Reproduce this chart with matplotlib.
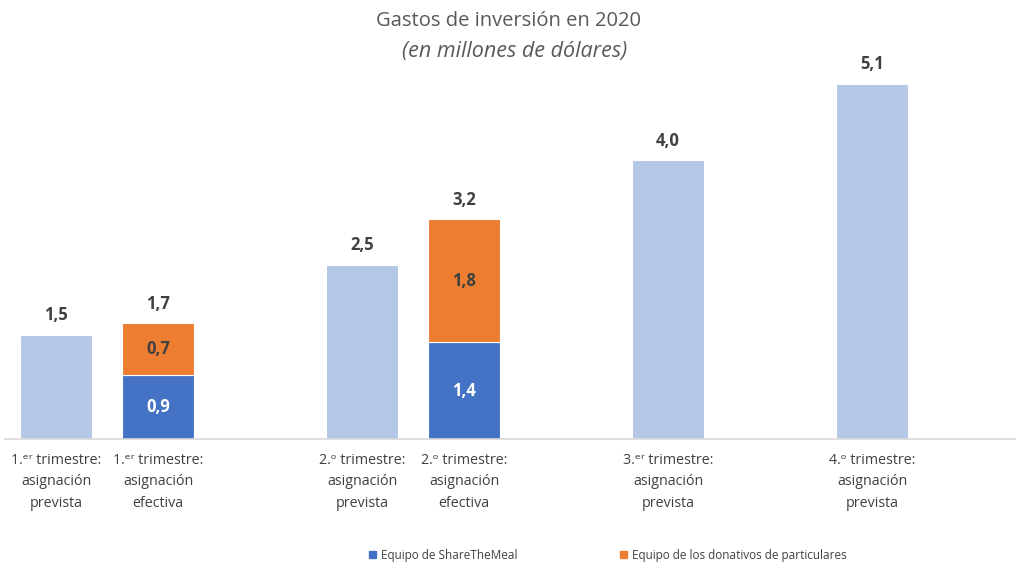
import numpy as np
import matplotlib.pyplot as plt

plt.rcParams['font.family'] = ['Open Sans', 'DejaVu Sans']

# data
categories = ['1.ᵉʳ trimestre:\nasignación\nprevista',
              '1.ᵉʳ trimestre:\nasignación\nefectiva',
              '2.ᵒ trimestre:\nasignación\nprevista',
              '2.ᵒ trimestre:\nasignación\nefectiva',
              '3.ᵉʳ trimestre:\nasignación\nprevista',
              '4.ᵒ trimestre:\nasignación\nprevista']
slots = [0, 1, 3, 4, 6, 8]
planned = [1.5, None, 2.5, None, 4.0, 5.1]
stm_team = [None, 0.92, None, 1.39, None, None]
donor_team = [None, 0.74, None, 1.77, None, None]

c_plan = '#B4C7E7'
c_stm = '#4472C4'
c_don = '#ED7D31'
txt = '#404040'

fig = plt.figure(figsize=(10.18, 5.65), dpi=100)
ax = fig.add_axes([5 / 1018, 126 / 565, 1010 / 1018, 383 / 565])
w = 0.71

def fmt(v):
    return f'{v:.1f}'.replace('.', ',')

for x, p, s, d in zip(slots, planned, stm_team, donor_team):
    if p is not None:
        ax.bar(x, p, w, color=c_plan, edgecolor='white', linewidth=0.8)
        ax.text(x, p + 0.15, fmt(p), ha='center', va='bottom',
                fontsize=12, fontweight='bold', color=txt)
    else:
        ax.bar(x, s, w, color=c_stm, edgecolor='white', linewidth=0.8)
        ax.bar(x, d, w, bottom=s, color=c_don, edgecolor='white', linewidth=0.8)
        ax.text(x, s / 2, fmt(s), ha='center', va='center',
                fontsize=12, fontweight='bold', color='white')
        ax.text(x, s + d / 2, fmt(d), ha='center', va='center',
                fontsize=12, fontweight='bold', color=txt)
        ax.text(x, s + d + 0.15, fmt(s + d), ha='center', va='bottom',
                fontsize=12, fontweight='bold', color=txt)

ax.set_xlim(-0.5, 9.4)
ax.set_ylim(0, 5.5)
ax.set_xticks(slots)
ax.set_xticklabels(categories, fontsize=10.3, color=txt, linespacing=1.6)
ax.tick_params(axis='x', length=0, pad=10)
ax.set_yticks([])
for side in ['top', 'right', 'left']:
    ax.spines[side].set_visible(False)
ax.spines['bottom'].set_color('#D9D9D9')
ax.spines['bottom'].set_linewidth(1.2)

fig.text(0.5, 0.962, 'Gastos de inversión en 2020', ha='center', va='center',
         fontsize=14.5, color='#595959')
fig.text(0.506, 0.908, '(en millones de dólares)', ha='center', va='center',
         fontsize=15.5, color='#595959', style='italic')

h1 = plt.Rectangle((0, 0), 1, 1, color=c_stm)
h2 = plt.Rectangle((0, 0), 1, 1, color=c_don)
fig.legend([h1, h2], ['Equipo de ShareTheMeal', 'Equipo de los donativos de particulares'],
           loc='center', bbox_to_anchor=(0.597, 0.017), ncol=2, frameon=False,
           fontsize=8.5, handlelength=0.6, handleheight=0.6, handletextpad=0.4,
           columnspacing=8.7, labelcolor=txt)

fig.savefig('out.png', dpi=100)
